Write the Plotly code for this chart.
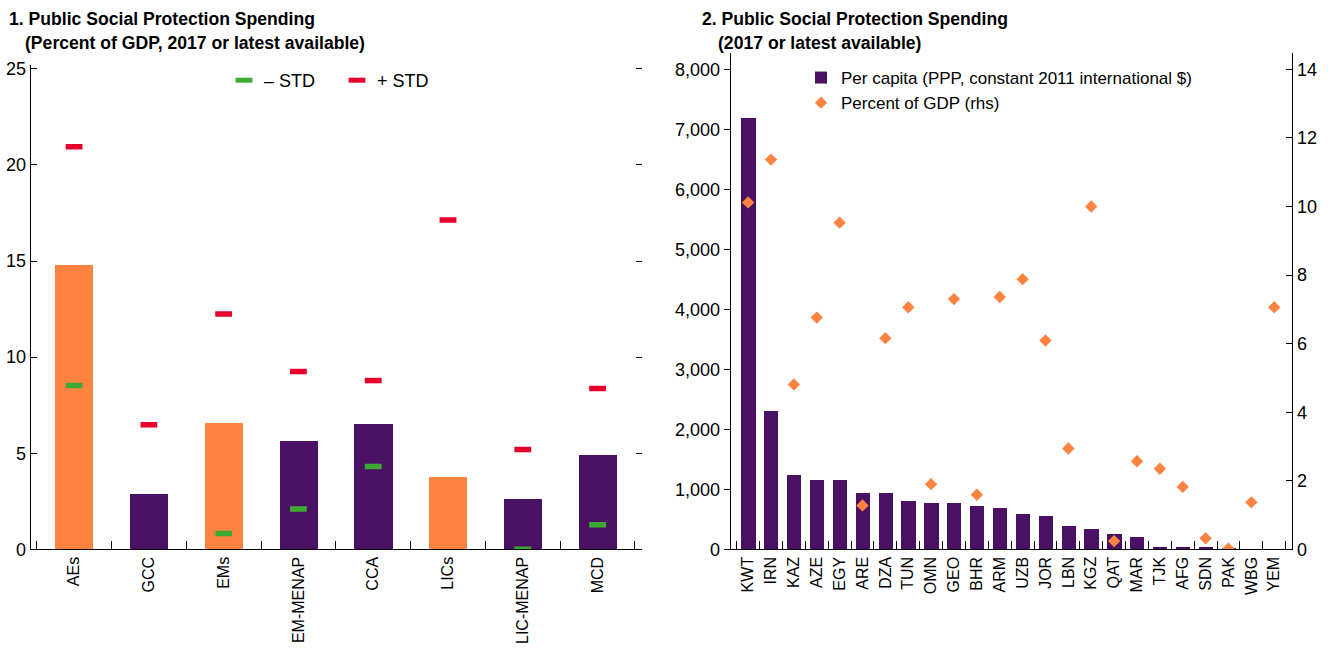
import plotly.graph_objects as go

# ---------------- Panel 1 data ----------------
groups = ["AEs", "GCC", "EMs", "EM-MENAP", "CCA", "LICs", "LIC-MENAP", "MCD"]
spending_pct = [14.79, 2.88, 6.58, 5.64, 6.53, 3.77, 2.62, 4.91]
minus_std = [8.52, None, 0.82, 2.10, 4.31, None, 0.0, 1.28]
plus_std = [20.94, 6.48, 12.24, 9.25, 8.78, 17.14, 5.19, 8.37]
group_is_benchmark = [True, False, True, False, False, True, False, False]

# ---------------- Panel 2 data ----------------
countries = ["KWT", "IRN", "KAZ", "AZE", "EGY", "ARE", "DZA", "TUN", "OMN", "GEO", "BHR",
             "ARM", "UZB", "JOR", "LBN", "KGZ", "QAT", "MAR", "TJK", "AFG", "SDN", "PAK",
             "WBG", "YEM"]
per_capita = [7190, 2305, 1239, 1156, 1156, 939, 939, 806, 772, 772, 722,
              689, 589, 556, 389, 339, 256, 206, 39, 39, 39, 12,
              None, None]
pct_gdp = [10.12, 11.37, 4.81, 6.76, 9.53, 1.28, 6.16, 7.06, 1.90, 7.30, 1.59,
           7.36, 7.88, 6.09, 2.94, 10.0, 0.24, 2.57, 2.35, 1.82, 0.32, 0.02,
           1.37, 7.06]

ORANGE = "#FF8340"
PURPLE = "#4A1064"
RED = "#E8002D"
GREEN = "#3CAA32"
FONT = "Liberation Sans, Arial, sans-serif"

W, H = 1328, 651

fig = go.Figure()

# Panel 1 bars
fig.add_trace(go.Bar(
    x=groups, y=spending_pct, width=0.51,
    marker=dict(color=[ORANGE if b else PURPLE for b in group_is_benchmark], line=dict(width=0)),
    showlegend=False, xaxis="x", yaxis="y", hoverinfo="x+y"))
fig.add_trace(go.Scatter(
    x=groups, y=minus_std, mode="markers", name="\u2013 STD",
    marker=dict(symbol="line-ew", size=12, color=GREEN, line=dict(color=GREEN, width=5.5)),
    xaxis="x", yaxis="y", legend="legend"))
fig.add_trace(go.Scatter(
    x=groups, y=plus_std, mode="markers", name="+ STD",
    marker=dict(symbol="line-ew", size=12, color=RED, line=dict(color=RED, width=5.5)),
    xaxis="x", yaxis="y", legend="legend"))
# invisible companion trace so the right-hand tick axis of panel 1 is drawn
fig.add_trace(go.Scatter(
    x=groups, y=spending_pct, mode="markers", marker=dict(opacity=0),
    showlegend=False, hoverinfo="skip", xaxis="x", yaxis="y3"))

# Panel 2
fig.add_trace(go.Bar(
    x=countries, y=per_capita, width=0.625, name="Per capita (PPP, constant 2011 international $)",
    marker=dict(color=PURPLE, line=dict(width=0)),
    xaxis="x2", yaxis="y2", legend="legend2"))
fig.add_trace(go.Scatter(
    x=countries, y=pct_gdp, mode="markers", name="Percent of GDP (rhs)",
    marker=dict(symbol="diamond", size=9.5, color=ORANGE, line=dict(width=0)),
    xaxis="x2", yaxis="y4", legend="legend2"))

axis_common = dict(showgrid=False, zeroline=False, showline=True, linecolor="black",
                   linewidth=1.3, tickcolor="black", tickwidth=1.2, automargin=False,
                   tickfont=dict(family=FONT, size=18, color="black"))
cat_font = dict(family=FONT, size=16, color="black")

xb = 1 - 549.3 / H
fig.update_layout(
    template="none",
    width=W, height=H, autosize=False,
    margin=dict(l=0, r=0, t=0, b=0, pad=0),
    paper_bgcolor="white", plot_bgcolor="rgba(0,0,0,0)",
    font=dict(family=FONT, size=18, color="black"),
    bargap=0,
    xaxis=dict(axis_common, domain=[30.7 / W, 641.7 / W], anchor="y", type="category",
               range=[-0.58, 7.59], tickson="boundaries", ticks="inside", ticklen=8,
               tickangle=-90, tickfont=cat_font),
    yaxis=dict(axis_common, domain=[xb, 1 - 65 / H], anchor="x", range=[0, 25.2],
               tickvals=[0, 5, 10, 15, 20, 25], ticks="inside", ticklen=6),
    yaxis3=dict(overlaying="y", side="right", anchor="x", range=[0, 25.2],
                tickvals=[0, 5, 10, 15, 20, 25], ticks="inside", ticklen=6,
                tickcolor="black", tickwidth=1.2, automargin=False,
                showline=False, showticklabels=False, showgrid=False, zeroline=False),
    xaxis2=dict(axis_common, domain=[730.7 / W, 1292.3 / W], anchor="y2", type="category",
                range=[-0.762, 23.79], tickson="boundaries", ticks="inside", ticklen=8,
                tickangle=-90, tickfont=cat_font),
    yaxis2=dict(axis_common, domain=[xb, 1 - 53.3 / H], anchor="x2", range=[0, 8268],
                tickvals=list(range(0, 8001, 1000)), tickformat=",", ticks="outside", ticklen=6),
    yaxis4=dict(axis_common, overlaying="y2", side="right", anchor="x2", range=[0, 14.47],
                tickvals=[0, 2, 4, 6, 8, 10, 12, 14], ticks="inside", ticklen=6),
    legend=dict(orientation="h", x=224 / W, y=1 - 62 / H, xanchor="left", yanchor="top",
                bgcolor="rgba(0,0,0,0)", font=dict(family=FONT, size=18),
                entrywidth=68, itemwidth=30),
    legend2=dict(orientation="v", x=801 / W, y=1 - 60 / H, xanchor="left", yanchor="top",
                 bgcolor="rgba(0,0,0,0)", font=dict(family=FONT, size=17),
                 tracegroupgap=0, itemwidth=30),
    annotations=[
        dict(text="<b>1. Public Social Protection Spending</b>", x=7 / W, y=1 - 19 / H,
             xref="paper", yref="paper", xanchor="left", yanchor="middle", showarrow=False,
             font=dict(family=FONT, size=17.6, color="black")),
        dict(text="<b>(Percent of GDP, 2017 or latest available)</b>", x=23 / W, y=1 - 43 / H,
             xref="paper", yref="paper", xanchor="left", yanchor="middle", showarrow=False,
             font=dict(family=FONT, size=17.6, color="black")),
        dict(text="<b>2. Public Social Protection Spending</b>", x=700 / W, y=1 - 19 / H,
             xref="paper", yref="paper", xanchor="left", yanchor="middle", showarrow=False,
             font=dict(family=FONT, size=17.6, color="black")),
        dict(text="<b>(2017 or latest available)</b>", x=716 / W, y=1 - 43 / H,
             xref="paper", yref="paper", xanchor="left", yanchor="middle", showarrow=False,
             font=dict(family=FONT, size=17.6, color="black")),
    ],
)

fig.write_html("out.html", config={"displayModeBar": False},
               post_script="document.body.style.margin='0';document.body.style.overflow='hidden';")
